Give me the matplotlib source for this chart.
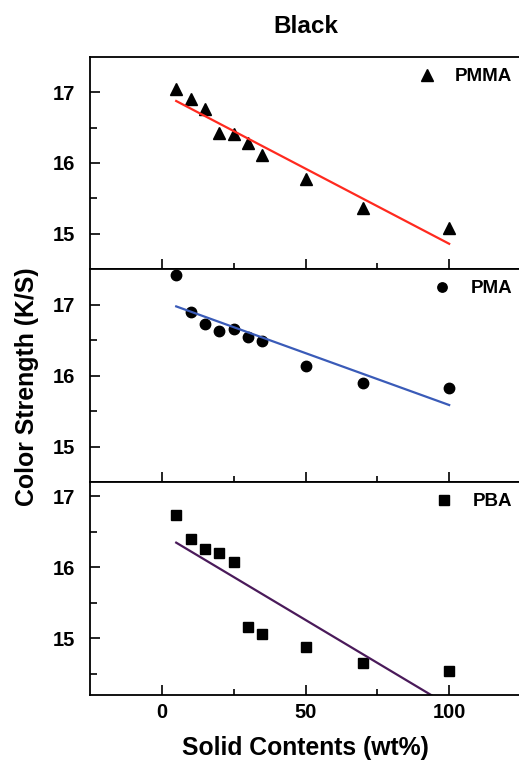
import numpy as np
import matplotlib.pyplot as plt

plt.rcParams['font.family'] = ['Liberation Sans', 'DejaVu Sans']
plt.rcParams['font.weight'] = 'bold'

# solid content (wt%) and color strength (K/S) for each polymer
solid = [5, 10, 15, 20, 25, 30, 35, 50, 70, 100]
pmma = [17.05, 16.91, 16.76, 16.43, 16.41, 16.28, 16.12, 15.77, 15.37, 15.08]
pma = [17.41, 16.90, 16.72, 16.62, 16.66, 16.54, 16.49, 16.14, 15.90, 15.82]
pba = [16.74, 16.40, 16.26, 16.20, 16.08, 15.16, 15.06, 14.87, 14.65, 14.54]

names = ['PMMA', 'PMA', 'PBA']
series = [pmma, pma, pba]
markers = ['^', 'o', 's']
msizes = [9, 7.5, 7.5]
fit_colors = ['#ff2a1f', '#3a5bb8', '#4a1a5a']
ylims = [(14.5, 17.5), (14.5, 17.5), (14.2, 17.2)]

fig = plt.figure(figsize=(5.19, 7.62), dpi=100)
left, width = 90 / 519, 431 / 519
tops = [57, 269, 482]
bottoms = [269, 482, 695]

axes = []
for i in range(3):
    b = 1 - bottoms[i] / 762
    h = (bottoms[i] - tops[i]) / 762
    ax = fig.add_axes([left, b, width, h])
    axes.append(ax)
    x = np.array(solid)
    y = np.array(series[i])
    ax.plot(x, y, linestyle='none', marker=markers[i], ms=msizes[i],
            color='black', label=names[i])
    # linear fit through the points
    k, c = np.polyfit(x, y, 1)
    xf = np.array([5, 100])
    ax.plot(xf, k * xf + c, color=fit_colors[i], lw=1.6)
    ax.set_xlim(-25, 125)
    ax.set_ylim(*ylims[i])
    ax.set_xticks([0, 50, 100])
    ax.set_xticks([25, 75], minor=True)
    ax.set_yticks([15, 16, 17])
    if i < 2:
        ax.set_yticks([15.5, 16.5], minor=True)
    else:
        ax.set_yticks([14.5, 15.5, 16.5], minor=True)
    ax.tick_params(which='both', direction='in', width=1.2, labelsize=14.5)
    ax.tick_params(which='major', length=7)
    ax.tick_params(which='minor', length=5)
    ax.tick_params(axis='x', which='minor', length=4)
    ax.tick_params(axis='y', which='major', pad=11)
    ax.tick_params(axis='x', which='major', pad=6)
    for s in ax.spines.values():
        s.set_linewidth(1.3)
    if i < 2:
        ax.tick_params(axis='x', labelbottom=False)
    ax.legend(loc='upper right', frameon=False, fontsize=13.5, handletextpad=0.5,
              borderaxespad=0.2, markerscale=0.9,
              bbox_to_anchor=(1.005, 1.0))

axes[0].set_title('Black', fontsize=17.5, fontweight='bold', pad=17)
fig.text(305 / 519, 1 - 748 / 762, 'Solid Contents (wt%)', ha='center', va='center',
         fontsize=17.8, fontweight='bold')
fig.text(27 / 519, 1 - 387 / 762, 'Color Strength (K/S)', rotation=90,
         ha='center', va='center', fontsize=17.9, fontweight='bold')

fig.savefig('out.png', dpi=100)
